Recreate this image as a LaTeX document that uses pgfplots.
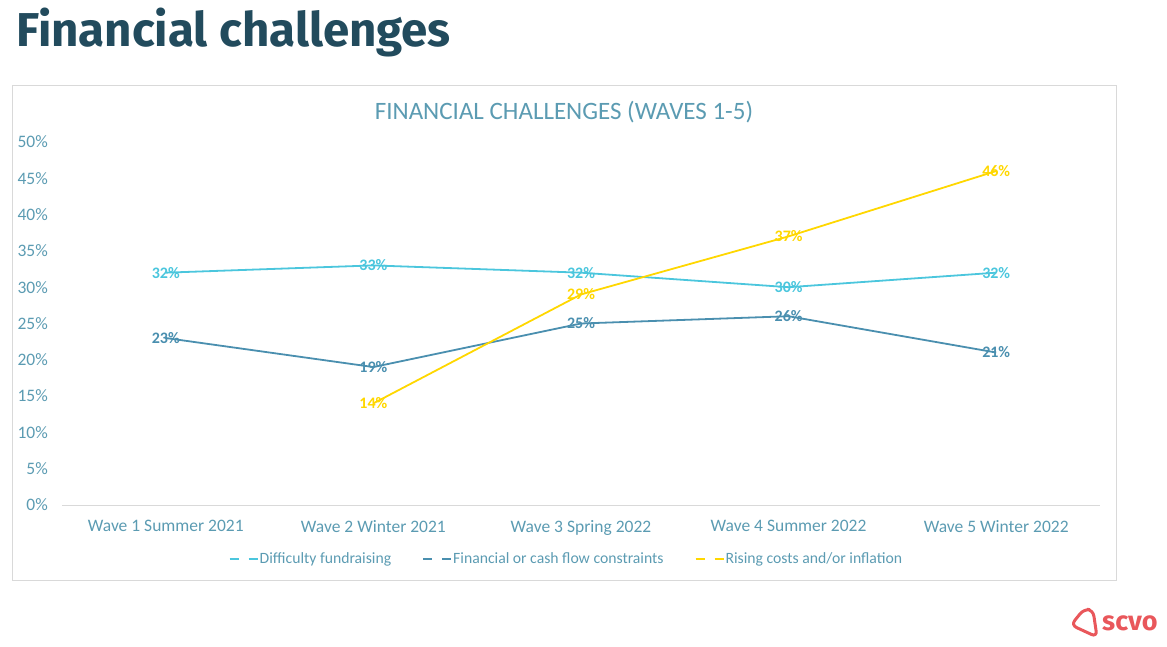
\documentclass[border=0pt]{standalone}
\usepackage{pgfplots}
\pgfplotsset{compat=1.18}
\usepackage{fontspec}
\setmainfont{Carlito}
\newfontfamily\titlefont{Fira Sans}
\definecolor{cfund}{HTML}{4BC6DD}
\definecolor{ccash}{HTML}{4A8FAF}
\definecolor{crise}{HTML}{FFD700}
\definecolor{ctick}{HTML}{5B9BB2}
\definecolor{ctitle}{HTML}{224B5D}
\definecolor{cgrid}{HTML}{D9D9D9}
\definecolor{clogo}{HTML}{E9575B}
\begin{document}
\begin{tikzpicture}[x=1pt,y=1pt]
\path[use as bounding box] (0,0) rectangle (1167,647);
\node[anchor=base west,inner sep=0pt,text=ctitle,font={\titlefont\bfseries\fontsize{47.5}{50}\selectfont}] at (16,600) {Financial challenges};
\draw[cgrid,line width=0.8pt] (12.5,67) rectangle (1116,562);
\node[text=ctick,inner sep=0pt,font={\fontsize{25}{28}\selectfont}] at (564,535) {FINANCIAL CHALLENGES (WAVES 1-5)};
\begin{axis}[
  at={(62pt,142pt)}, anchor=south west,
  scale only axis, width=1038pt, height=363pt,
  xmin=-0.5, xmax=4.5, ymin=0, ymax=50,
  axis x line*=bottom, axis y line*=left,
  x axis line style={draw=cgrid,-,line width=0.8pt},
  y axis line style={draw=none},
  major tick length=0pt,
  xtick={0,1,2,3,4},
  xticklabels={Wave 1 Summer 2021,Wave 2 Winter 2021,Wave 3 Spring 2022,Wave 4 Summer 2022,Wave 5 Winter 2022},
  ytick={0,5,...,50},
  yticklabel={\pgfmathprintnumber{\tick}\%},
  yticklabel style={anchor=east,inner sep=0pt,xshift=-14pt},
  xticklabel style={anchor=north,inner sep=0pt,yshift=-15pt},
  tick label style={text=ctick,font={\fontsize{17.5}{20}\selectfont}},
  /pgf/number format/assume math mode=true,
  nodes near coords={\pgfmathprintnumber{\pgfplotspointmeta}\%},
  every node near coord/.append style={anchor=center,inner sep=0pt,font={\bfseries\fontsize{16}{18}\selectfont}},
  legend columns=3,
  legend style={at={(0.4855,-0.149)},anchor=center,draw=none,fill=none,
    font={\fontsize{15.7}{18}\selectfont},text=ctick,
    /tikz/every even column/.append style={column sep=30pt},
    nodes={inner sep=1pt}},
  legend image code/.code={\draw[#1,line width=2pt,dash pattern=on 9pt off 10pt] (0pt,0pt) -- (28pt,0pt);},
  clip=false,
]
\addplot[cfund,line width=1.8pt,every node near coord/.append style={text=cfund}] coordinates {(0,32) (1,33) (2,32) (3,30) (4,32)};
\addlegendentry{Difficulty fundraising}
\addplot[ccash,line width=1.8pt,every node near coord/.append style={text=ccash}] coordinates {(0,23) (1,19) (2,25) (3,26) (4,21)};
\addlegendentry{Financial or cash flow constraints}
\addplot[crise,line width=1.8pt,every node near coord/.append style={text=crise}] coordinates {(1,14) (2,29) (3,37) (4,46)};
\addlegendentry{Rising costs and/or inflation}
\end{axis}
% logo
\draw[clogo,line width=3pt,rounded corners=6pt] (1084,38) -- (1093,37) -- (1097,10) -- (1071,22) -- cycle;
\node[anchor=base west,inner sep=0pt,text=clogo,font={\titlefont\bfseries\fontsize{27}{30}\selectfont}] at (1102,16) {scvo};
\end{tikzpicture}
\end{document}
